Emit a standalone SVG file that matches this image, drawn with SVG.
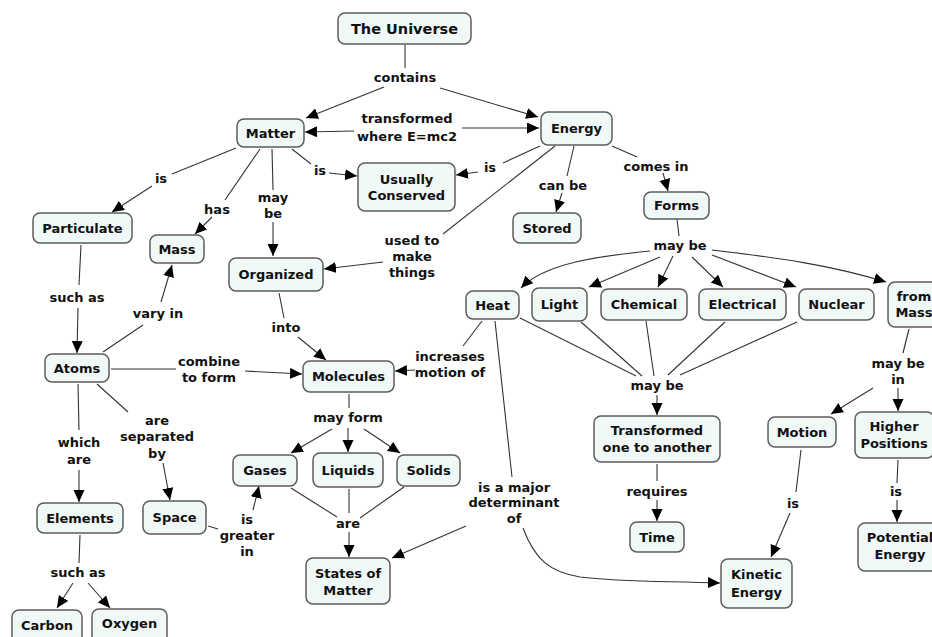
<svg xmlns="http://www.w3.org/2000/svg" width="932" height="637" viewBox="0 0 932 637">
<style>
.n rect{fill:#f0f8f8;stroke:#5c5c5c;stroke-width:1.5}
text{font-family:"DejaVu Sans",Verdana,sans-serif;font-weight:bold;font-size:13px;fill:#111;text-anchor:middle}
.c line,.c path{stroke:#333;stroke-width:1.1;fill:none}
.c .a{marker-end:url(#ah)}
</style>
<defs>
<marker id="ah" markerUnits="userSpaceOnUse" markerWidth="13" markerHeight="12" refX="12" refY="5.5" orient="auto">
<path d="M0,0 L12,5.5 L0,11 z" fill="#000"/>
</marker>
</defs>
<rect width="932" height="637" fill="#fff"/>
<g id="connectors" class="c">
<line x1="405" y1="45" x2="405" y2="68"/>
<line class="a" x1="384" y1="87" x2="306" y2="118"/>
<line class="a" x1="440" y1="88" x2="538" y2="117"/>
<line class="a" x1="354" y1="131" x2="305" y2="132"/>
<line class="a" x1="462" y1="128" x2="539" y2="128"/>
<line x1="236" y1="148" x2="172" y2="174"/>
<line class="a" x1="152" y1="186" x2="112" y2="212"/>
<line x1="260" y1="149" x2="225" y2="200"/>
<line class="a" x1="212" y1="217" x2="195" y2="234"/>
<line x1="272" y1="149" x2="273" y2="190"/>
<line class="a" x1="273" y1="222" x2="273" y2="256"/>
<line x1="292" y1="149" x2="311" y2="164"/>
<line class="a" x1="329" y1="173" x2="357" y2="176"/>
<line x1="540" y1="146" x2="503" y2="163"/>
<line class="a" x1="478" y1="172" x2="456" y2="175"/>
<line x1="574" y1="146" x2="567" y2="176"/>
<line class="a" x1="562" y1="193" x2="556" y2="212"/>
<line x1="612" y1="146" x2="637" y2="157"/>
<line class="a" x1="663" y1="173" x2="668" y2="191"/>
<line x1="555" y1="146" x2="443" y2="234"/>
<line class="a" x1="383" y1="262" x2="324" y2="269"/>
<line x1="81" y1="245" x2="79" y2="285"/>
<line class="a" x1="78" y1="308" x2="77" y2="353"/>
<line x1="103" y1="352" x2="143" y2="325"/>
<line class="a" x1="161" y1="302" x2="172" y2="265"/>
<line x1="111" y1="369" x2="176" y2="369"/>
<line class="a" x1="245" y1="371" x2="302" y2="374"/>
<line x1="279" y1="293" x2="284" y2="318"/>
<line class="a" x1="298" y1="337" x2="326" y2="360"/>
<line x1="482" y1="321" x2="463" y2="346"/>
<line class="a" x1="415" y1="370" x2="395" y2="371"/>
<line x1="677" y1="219" x2="679" y2="236"/>
<path class="a" d="M650,251 C600,256 545,263 521,288"/>
<line class="a" x1="660" y1="257" x2="589" y2="287"/>
<line class="a" x1="673" y1="256" x2="658" y2="287"/>
<line class="a" x1="692" y1="257" x2="723" y2="287"/>
<line class="a" x1="712" y1="255" x2="796" y2="287"/>
<path class="a" d="M712,250 C780,258 830,265 886,282"/>
<line x1="520" y1="318" x2="636" y2="376"/>
<line x1="581" y1="322" x2="642" y2="376"/>
<line x1="646" y1="321" x2="654" y2="376"/>
<line x1="725" y1="322" x2="668" y2="375"/>
<line x1="797" y1="322" x2="680" y2="375"/>
<line class="a" x1="657" y1="395" x2="657" y2="415"/>
<line x1="657" y1="464" x2="657" y2="481"/>
<line class="a" x1="657" y1="500" x2="657" y2="521"/>
<line x1="909" y1="329" x2="903" y2="353"/>
<line class="a" x1="898" y1="388" x2="898" y2="411"/>
<line class="a" x1="873" y1="388" x2="831" y2="414"/>
<line x1="801" y1="450" x2="796" y2="492"/>
<line class="a" x1="790" y1="513" x2="771" y2="557"/>
<line x1="898" y1="460" x2="897" y2="483"/>
<line class="a" x1="897" y1="500" x2="897" y2="522"/>
<line x1="349" y1="394" x2="349" y2="408"/>
<line class="a" x1="332" y1="429" x2="291" y2="453"/>
<line class="a" x1="348" y1="428" x2="348" y2="452"/>
<line class="a" x1="364" y1="429" x2="400" y2="453"/>
<line x1="291" y1="488" x2="337" y2="517"/>
<line x1="349" y1="489" x2="349" y2="513"/>
<line x1="404" y1="487" x2="360" y2="518"/>
<line class="a" x1="349" y1="532" x2="349" y2="557"/>
<line x1="495" y1="321" x2="512" y2="477"/>
<line class="a" x1="466" y1="526" x2="392" y2="558"/>
<path class="a" d="M523,528 C535,560 550,572 580,577 C620,582 660,581 720,583"/>
<line x1="78" y1="384" x2="79" y2="430"/>
<line class="a" x1="79" y1="470" x2="79" y2="502"/>
<line x1="97" y1="384" x2="128" y2="412"/>
<line class="a" x1="163" y1="463" x2="170" y2="500"/>
<line x1="208" y1="526" x2="218" y2="529"/>
<line class="a" x1="253" y1="510" x2="259" y2="486"/>
<line x1="80" y1="535" x2="79" y2="563"/>
<line class="a" x1="73" y1="583" x2="57" y2="608"/>
<line class="a" x1="88" y1="583" x2="110" y2="608"/>
</g>
<g id="labels">
<g id="l-contains"><text x="405" y="82">contains</text></g>
<g id="l-transformed"><text x="407" y="123">transformed</text><text x="407" y="141">where E=mc2</text></g>
<g id="l-is1"><text x="161" y="183">is</text></g>
<g id="l-has"><text x="217" y="214">has</text></g>
<g id="l-maybe1"><text x="273" y="202">may</text><text x="273" y="218">be</text></g>
<g id="l-is2"><text x="320" y="175">is</text></g>
<g id="l-is3"><text x="490" y="172">is</text></g>
<g id="l-canbe"><text x="563" y="190">can be</text></g>
<g id="l-comesin"><text x="656" y="171">comes in</text></g>
<g id="l-usedto"><text x="412" y="245">used to</text><text x="412" y="261">make</text><text x="412" y="277">things</text></g>
<g id="l-suchas1"><text x="77" y="302">such as</text></g>
<g id="l-varyin"><text x="158" y="318">vary in</text></g>
<g id="l-combine"><text x="209" y="366">combine</text><text x="209" y="382">to form</text></g>
<g id="l-into"><text x="286" y="332">into</text></g>
<g id="l-increases"><text x="450" y="361">increases</text><text x="450" y="377">motion of</text></g>
<g id="l-maybe2"><text x="680" y="250">may be</text></g>
<g id="l-maybe3"><text x="657" y="390">may be</text></g>
<g id="l-requires"><text x="657" y="496">requires</text></g>
<g id="l-maybein"><text x="898" y="368">may be</text><text x="898" y="384">in</text></g>
<g id="l-is4"><text x="793" y="508">is</text></g>
<g id="l-is5"><text x="896" y="496">is</text></g>
<g id="l-mayform"><text x="348" y="422">may form</text></g>
<g id="l-are"><text x="348" y="528">are</text></g>
<g id="l-major"><text x="514" y="492">is a major</text><text x="514" y="507">determinant</text><text x="514" y="523">of</text></g>
<g id="l-whichare"><text x="79" y="447">which</text><text x="79" y="464">are</text></g>
<g id="l-separated"><text x="157" y="425">are</text><text x="157" y="441">separated</text><text x="157" y="458">by</text></g>
<g id="l-greater"><text x="247" y="524">is</text><text x="247" y="540">greater</text><text x="247" y="556">in</text></g>
<g id="l-suchas2"><text x="78" y="577">such as</text></g>
</g>
<g id="universe" class="n"><rect x="338" y="13" width="133" height="31" rx="7"/><text x="404.5" y="34" style="font-size:14.5px">The Universe</text></g>
<g id="matter" class="n"><rect x="237" y="119" width="67" height="28" rx="7"/><text x="270.5" y="137.5">Matter</text></g>
<g id="energy" class="n"><rect x="541" y="112" width="71" height="33" rx="7"/><text x="576.5" y="133">Energy</text></g>
<g id="conserved" class="n"><rect x="358" y="163" width="97" height="48" rx="7"/><text x="406.5" y="183.5">Usually</text><text x="406.5" y="199.5">Conserved</text></g>
<g id="stored" class="n"><rect x="513" y="213" width="68" height="30" rx="7"/><text x="547" y="232.5">Stored</text></g>
<g id="forms" class="n"><rect x="644" y="192" width="65" height="27" rx="7"/><text x="676.5" y="210">Forms</text></g>
<g id="particulate" class="n"><rect x="33" y="213" width="99" height="30" rx="7"/><text x="82.5" y="232.5">Particulate</text></g>
<g id="mass" class="n"><rect x="150" y="235" width="54" height="28" rx="7"/><text x="177" y="253.5">Mass</text></g>
<g id="organized" class="n"><rect x="229" y="258" width="94" height="33" rx="7"/><text x="276" y="279">Organized</text></g>
<g id="atoms" class="n"><rect x="45" y="354" width="64" height="28" rx="7"/><text x="77" y="372.5">Atoms</text></g>
<g id="molecules" class="n"><rect x="303" y="361" width="91" height="31" rx="7"/><text x="348.5" y="381">Molecules</text></g>
<g id="heat" class="n"><rect x="466" y="291" width="53" height="28" rx="7"/><text x="492.5" y="309.5">Heat</text></g>
<g id="light" class="n"><rect x="532" y="288" width="55" height="33" rx="7"/><text x="559.5" y="309">Light</text></g>
<g id="chemical" class="n"><rect x="601" y="289" width="86" height="31" rx="7"/><text x="644" y="309">Chemical</text></g>
<g id="electrical" class="n"><rect x="699" y="289" width="87" height="31" rx="7"/><text x="742.5" y="309">Electrical</text></g>
<g id="nuclear" class="n"><rect x="799" y="289" width="75" height="31" rx="7"/><text x="836.5" y="309">Nuclear</text></g>
<g id="frommass" class="n"><rect x="888" y="282" width="54" height="45" rx="7"/><text x="914" y="300.5">from</text><text x="914" y="316.5">Mass</text></g>
<g id="transformed" class="n"><rect x="594" y="416" width="126" height="46" rx="7"/><text x="657" y="435">Transformed</text><text x="657" y="451.5">one to another</text></g>
<g id="time" class="n"><rect x="630" y="522" width="54" height="30" rx="7"/><text x="657" y="541.5">Time</text></g>
<g id="motion" class="n"><rect x="768" y="417" width="68" height="30" rx="7"/><text x="802" y="436.5">Motion</text></g>
<g id="higher" class="n"><rect x="855" y="412" width="79" height="46" rx="7"/><text x="894" y="430.5">Higher</text><text x="894" y="447.5">Positions</text></g>
<g id="potential" class="n"><rect x="858" y="523" width="84" height="48" rx="7"/><text x="900" y="541.5">Potential</text><text x="900" y="558.5">Energy</text></g>
<g id="kinetic" class="n"><rect x="721" y="559" width="71" height="49" rx="7"/><text x="756.5" y="578.5">Kinetic</text><text x="756.5" y="596.5">Energy</text></g>
<g id="gases" class="n"><rect x="233" y="455" width="64" height="31" rx="7"/><text x="265" y="475">Gases</text></g>
<g id="liquids" class="n"><rect x="313" y="453" width="70" height="34" rx="7"/><text x="348" y="474.5">Liquids</text></g>
<g id="solids" class="n"><rect x="397" y="455" width="63" height="31" rx="7"/><text x="428.5" y="475">Solids</text></g>
<g id="states" class="n"><rect x="306" y="558" width="84" height="46" rx="7"/><text x="348" y="577.5">States of</text><text x="348" y="594.5">Matter</text></g>
<g id="elements" class="n"><rect x="37" y="503" width="86" height="30" rx="7"/><text x="80" y="522.5">Elements</text></g>
<g id="space" class="n"><rect x="143" y="501" width="63" height="33" rx="7"/><text x="174.5" y="522">Space</text></g>
<g id="carbon" class="n"><rect x="12" y="610" width="70" height="34" rx="7"/><text x="47" y="629.5">Carbon</text></g>
<g id="oxygen" class="n"><rect x="92" y="609" width="75" height="34" rx="7"/><text x="129.5" y="627.5">Oxygen</text></g>
</svg>
